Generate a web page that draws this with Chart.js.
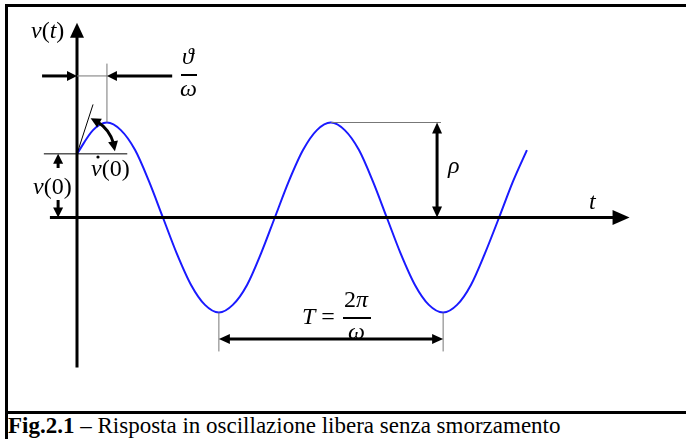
<!DOCTYPE html>
<html>
<head>
<meta charset="utf-8">
<script src="https://cdn.jsdelivr.net/npm/chart.js@4/dist/chart.umd.min.js"></script>
<style>
  body { margin: 0; background: #fff; width: 686px; height: 439px; overflow: hidden; position: relative; }
  #frame { position: absolute; left: 5px; top: 4px; width: 700px; height: 404px; border: 3px solid #000; border-right: none; }
  #foot { position: absolute; left: 5px; top: 414px; width: 10px; height: 40px; border-left: 3px solid #000; }
  #caption { position: absolute; left: 8px; top: 413px; font-family: 'Liberation Serif', 'Times New Roman', serif; font-size: 23px; white-space: nowrap; color: #000; }
  #diagram { position: absolute; left: 0; top: 0; }
</style>
</head>
<body>
<div id="frame"></div>
<div id="foot"></div>
<div id="caption"><b>Fig.2.1</b> – Risposta in oscillazione libera senza smorzamento</div>
<canvas id="diagram" width="686" height="439"></canvas>
<script>
// free undamped response v(t) = rho*cos(omega*t - theta), omega = 1
const t_values = [0, 0.45, 0.84, 1.23, 1.63, 2.02, 2.41, 2.80, 3.20, 3.59, 3.98, 4.37, 4.77, 5.16, 5.55, 5.94,
                  6.34, 6.73, 7.12, 7.51, 7.91, 8.30, 8.69, 9.08, 9.48, 9.87, 10.27, 10.66, 11.05, 11.44, 11.84, 12.23, 12.62];
const v_values = [0.67, 0.92, 1, 0.92, 0.71, 0.38, 0, -0.38, -0.71, -0.92, -1, -0.92, -0.71, -0.38, 0, 0.38,
                  0.71, 0.92, 1, 0.92, 0.71, 0.38, 0, -0.38, -0.71, -0.92, -1, -0.92, -0.71, -0.38, 0, 0.38, 0.71];
const RHO = 1;
const V0 = 0.67;
const PEAK_T = 0.84;        // theta / omega
const PERIOD = 6.29;        // 2*pi / omega
const FIRST_TROUGH_T = 3.98;

const MATH_FONT = '"Liberation Serif", serif';
const MATH_SIZE = 24;

let points = [];
for (let i = 0; i < t_values.length; i++) {
    points.push({x: t_values[i], y: v_values[i]});
}

function arrow_head(ctx, x, y, angle, len, half) {
    ctx.save();
    ctx.translate(x, y);
    ctx.rotate(angle);
    ctx.beginPath();
    ctx.moveTo(0, 0);
    ctx.lineTo(-len, -half);
    ctx.lineTo(-len, half);
    ctx.closePath();
    ctx.fill();
    ctx.restore();
}

function line(ctx, x1, y1, x2, y2, width, color) {
    ctx.strokeStyle = color;
    ctx.lineWidth = width;
    ctx.beginPath();
    ctx.moveTo(x1, y1);
    ctx.lineTo(x2, y2);
    ctx.stroke();
}

// draws pieces like [['v', true], ['(0)', false]] starting at x, centred on y
function math_text(ctx, parts, x, y, size) {
    ctx.textBaseline = 'middle';
    ctx.textAlign = 'left';
    let cx = x;
    for (let p of parts) {
        ctx.font = (p[1] ? 'italic ' : '') + size + 'px ' + MATH_FONT;
        ctx.fillText(p[0], cx, y);
        cx += ctx.measureText(p[0]).width;
    }
    return cx;
}

const diagram_plugin = {
    id: 'diagram_plugin',
    afterDatasetsDraw(chart) {
        const ctx = chart.ctx;
        const X = v => chart.scales.x.getPixelForValue(v);
        const Y = v => chart.scales.y.getPixelForValue(v);
        ctx.save();
        ctx.fillStyle = '#000';

        // axes
        line(ctx, X(-0.76), Y(0), X(15.05), Y(0), 3, '#000');
        arrow_head(ctx, X(15.5), Y(0), 0, 17, 7.5);
        line(ctx, X(0), Y(-1.58), X(0), Y(2.05) + 12, 3, '#000');
        arrow_head(ctx, X(0), Y(2.05), -Math.PI / 2, 15, 7);
        math_text(ctx, [['v', true], ['(', false], ['t', true], [')', false]], 31, 32, MATH_SIZE);
        math_text(ctx, [['t', true]], 589, 203, MATH_SIZE);

        // theta / omega : offset of the first peak
        const y_th = Y(1.49);
        line(ctx, X(PEAK_T), Y(1.62), X(PEAK_T), Y(RHO), 1, '#777');
        line(ctx, X(0), y_th, X(PEAK_T), y_th, 1, '#777');
        line(ctx, X(-0.98), y_th, X(-0.2), y_th, 3, '#000');
        arrow_head(ctx, X(0), y_th, 0, 10, 5);
        line(ctx, X(2.67), y_th, X(PEAK_T) + 8, y_th, 3, '#000');
        arrow_head(ctx, X(PEAK_T), y_th, Math.PI, 10, 5);
        math_text(ctx, [['\u03D1', true]], 182, 58, MATH_SIZE);
        line(ctx, 181, 75, 197, 75, 2, '#000');
        math_text(ctx, [['\u03C9', true]], 180, 90, MATH_SIZE);

        // initial displacement v(0)
        const x0 = X(0), y0 = Y(V0);
        line(ctx, X(-0.93), y0, X(1.41), y0, 1, '#000');
        const x_v0 = X(-0.53);
        line(ctx, x_v0, y0 + 8, x_v0, 168, 3, '#000');
        arrow_head(ctx, x_v0, y0, -Math.PI / 2, 10, 5);
        line(ctx, x_v0, 200, x_v0, Y(0) - 8, 3, '#000');
        arrow_head(ctx, x_v0, Y(0), Math.PI / 2, 10, 5);
        math_text(ctx, [['v', true], ['(0)', false]], 33, 188, MATH_SIZE);

        // initial velocity: tangent and angle arc
        line(ctx, x0, y0, X(0.45), Y(V0 + 0.52), 1, '#000');
        const r = 38, a1 = -69 * Math.PI / 180, a2 = -4 * Math.PI / 180;
        ctx.strokeStyle = '#000';
        ctx.lineWidth = 3;
        ctx.beginPath();
        ctx.arc(x0, y0, r, a1 + 0.2, a2 - 0.2);
        ctx.stroke();
        arrow_head(ctx, x0 + r * Math.cos(a1), y0 + r * Math.sin(a1), a1 - Math.PI / 2 + 0.12, 10, 5);
        arrow_head(ctx, x0 + r * Math.cos(a2), y0 + r * Math.sin(a2), a2 + Math.PI / 2 - 0.12, 10, 5);
        math_text(ctx, [['v', true], ['(0)', false]], 91, 170, MATH_SIZE);
        ctx.beginPath();
        ctx.arc(98, 157, 1.6, 0, 2 * Math.PI);
        ctx.fill();

        // amplitude rho
        const x_rho = X(10.1);
        line(ctx, X(PEAK_T + PERIOD), Y(RHO), X(10.21), Y(RHO), 1, '#777');
        line(ctx, x_rho, Y(RHO) + 8, x_rho, Y(0) - 8, 3, '#000');
        arrow_head(ctx, x_rho, Y(RHO), -Math.PI / 2, 11, 5);
        arrow_head(ctx, x_rho, Y(0), Math.PI / 2, 11, 5);
        math_text(ctx, [['\u03C1', true]], 448, 167, MATH_SIZE);

        // period T
        const xa = X(FIRST_TROUGH_T), xb = X(FIRST_TROUGH_T + PERIOD), y_T = Y(-1.28);
        line(ctx, xa, Y(-RHO), xa, Y(-1.41), 1, '#777');
        line(ctx, xb, Y(-RHO), xb, Y(-1.41), 1, '#777');
        line(ctx, xa + 8, y_T, xb - 8, y_T, 3, '#000');
        arrow_head(ctx, xa, y_T, Math.PI, 11, 5);
        arrow_head(ctx, xb, y_T, 0, 11, 5);
        math_text(ctx, [['T', true], [' = ', false]], 302, 318, MATH_SIZE);
        math_text(ctx, [['2', false], ['\u03C0', true]], 344, 301, MATH_SIZE);
        line(ctx, 343, 318, 371, 318, 2, '#000');
        math_text(ctx, [['\u03C9', true]], 348, 333, MATH_SIZE);

        ctx.restore();
    }
};

let the_chart = new Chart(document.getElementById('diagram'), {
    type: 'line',
    data: {
        datasets: [{
            data: points,
            borderColor: '#1a1aff',
            borderWidth: 2,
            pointRadius: 0,
            cubicInterpolationMode: 'monotone',
            fill: false
        }]
    },
    options: {
        responsive: false,
        animation: false,
        devicePixelRatio: 1,
        layout: {padding: {left: 77, right: 38.6, top: 27.5, bottom: 31.5}},
        plugins: {legend: {display: false}, tooltip: {enabled: false}},
        scales: {
            x: {type: 'linear', min: 0, max: 16, display: false},
            y: {type: 'linear', min: -2, max: 2, display: false}
        }
    },
    plugins: [diagram_plugin]
});
</script>
</body>
</html>
